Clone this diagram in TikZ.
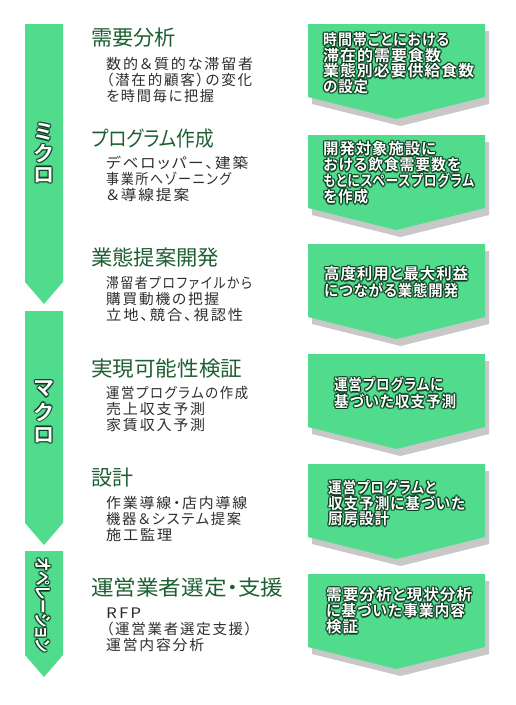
\documentclass[tikz,border=0pt]{standalone}
\usepackage{graphicx}
\usepackage{fontspec}
\newfontfamily\jp[RawFeature=+palt]{Noto Sans CJK JP}
\newfontfamily\jpsp[RawFeature=+palt,LetterSpace=12]{Noto Sans CJK JP}
\newfontfamily\jpbsp[RawFeature=+palt,LetterSpace=6]{Noto Sans CJK JP Bold}
\newfontfamily\jpb[RawFeature=+palt]{Noto Sans CJK JP Bold}
\newfontfamily\jpbv{Noto Sans CJK JP Bold}
\definecolor{grn}{RGB}{80,220,140}
\definecolor{shd}{RGB}{200,200,200}
\definecolor{hd}{RGB}{30,95,50}
\definecolor{bd}{RGB}{45,45,45}
\definecolor{glw}{RGB}{8,45,22}
\tikzset{
  heading/.style={font=\jp\fontsize{21}{21}\selectfont, text=hd, inner sep=0, anchor=base west},
  bodytxt/.style={font=\jpsp\fontsize{14.5}{16}\selectfont, text=bd, inner sep=0, anchor=base west},
  boxtxt/.style={font=\jpbsp\fontsize{15.5}{16}\selectfont, text=white, inner sep=0, anchor=base west},
  vlab/.style={font=\jpbv\fontsize{21}{21}\selectfont, text=white, inner sep=0, anchor=center},
  glowcopy/.style={text=glw, opacity=.62},
  chev/.style={fill=grn, draw=none},
  chevshadow/.style={fill=shd, draw=none},
}
% fit a line to a width, keeping its height
\newcommand\fitw[2]{\resizebox{#1pt}{\height}{#2}}
% plain lines: #1 name, #2 x, #3 first baseline, #4 spacing, #5 style, #6 list text/width
\newcommand\txtlines[6]{%
  \foreach \t/\w [count=\i from 0] in {#6}{%
    \node[#5] (#1-\i) at (#2, #3+\i*#4) {\fitw{\w}{\t}};}}
% glowing lines
\newcommand\glowlines[6]{%
  \foreach \t/\w [count=\i from 0] in {#6}{%
    \foreach \ga in {0,45,...,315}{%
      \node[#5, glowcopy] at ([shift={(\ga:1.4pt)}] #2, #3+\i*#4) {\fitw{\w}{\t}};}%
    \node[#5] (#1-\i) at (#2, #3+\i*#4) {\fitw{\w}{\t}};}}
\newcommand\chevron[1]{% #1 top y
  \fill[chevshadow] (312,#1+7) -- (489,#1+7) -- (489,#1+80) -- (400.5,#1+102) -- (312,#1+80) -- cycle;
  \fill[chev] (308,#1) -- (485,#1) -- (485,#1+73) -- (396.5,#1+95) -- (308,#1+73) -- cycle;}
\begin{document}
\begin{tikzpicture}[x=1pt,y=-1pt]
\useasboundingbox (0,0) rectangle (515,705);
% left phase arrows
\fill[chev] (25,24) -- (63,24) -- (63,282) -- (44,304) -- (25,282) -- cycle;
\fill[chev] (25,311) -- (63,311) -- (63,523) -- (44,545) -- (25,523) -- cycle;
\fill[chev] (25,551) -- (63,551) -- (63,655) -- (44,677) -- (25,655) -- cycle;
% phase labels
\foreach \c [count=\i from 0] in {ミ,ク,ロ}{%
  \foreach \ga in {0,45,...,315}{\node[vlab,glowcopy] at ([shift={(\ga:1.4pt)}] 44,132+\i*21.5) {\c};}
  \node[vlab] (micro-\i) at (44,132+\i*21.5) {\c};}
\foreach \c [count=\i from 0] in {マ,ク,ロ}{%
  \foreach \ga in {0,45,...,315}{\node[vlab,glowcopy] at ([shift={(\ga:1.4pt)}] 44,389+\i*23) {\c};}
  \node[vlab] (macro-\i) at (44,389+\i*23) {\c};}
\foreach \ga in {0,45,...,315}{\node[vlab,glowcopy,font=\jpb\fontsize{18}{18}\selectfont,rotate=-90] at ([shift={(\ga:1.4pt)}] 43,605) {\fitw{94}{オペレーション}};}
\node[vlab,font=\jpb\fontsize{18}{18}\selectfont,rotate=-90] (oper) at (43,605) {\fitw{94}{オペレーション}};
% headings
\node[heading] (h1) at (91,45) {\fitw{85}{需要分析}};
\node[heading] (h2) at (91,146) {\fitw{123}{プログラム作成}};
\node[heading] (h3) at (91,265) {\fitw{128}{業態提案開発}};
\node[heading] (h4) at (91,376) {\fitw{151}{実現可能性検証}};
\node[heading] (h5) at (91,485) {\fitw{42}{設計}};
\node[heading] (h6) at (91,595) {\fitw{192}{運営業者選定・支援}};
% body texts
\txtlines{b1}{106}{69.5}{16}{bodytxt}{数的＆質的な滞留者/147,（潜在的顧客）の変化/146,を時間毎に把握/108}
\txtlines{b2}{106}{168.5}{16}{bodytxt}{デベロッパー、建築/142,事業所へゾーニング/125,＆導線提案/83}
\txtlines{b3}{106}{288.5}{16}{bodytxt}{滞留者プロファイルから/146,購買動機の把握/113,立地、競合、視認性/137}
\txtlines{b4}{106}{398.5}{16}{bodytxt}{運営プログラムの作成/142,売上収支予測/99,家賃収入予測/99}
\txtlines{b5}{106}{508.5}{16}{bodytxt}{作業導線・店内導線/141,機器＆システム提案/135,施工監理/66}
\txtlines{b6}{106}{618.5}{16}{bodytxt}{RFP/35,（運営業者選定支援）/146,運営内容分析/98}
% right chevrons
\chevron{24}
\chevron{135}
\chevron{244}
\chevron{354}
\chevron{464}
\chevron{574}
\glowlines{c1}{323}{45.7}{15.5}{boxtxt}{時間帯ごとにおける/126,滞在的需要食数/118,業態別必要供給食数/151,の設定/45}
\glowlines{c2}{323}{154.7}{16}{boxtxt}{開発対象施設に/113,おける飲食需要数を/138,もとにスペースプログラム/151,を作成/45}
\glowlines{c3}{324}{279.7}{16.5}{boxtxt}{高度利用と最大利益/144,につながる業態開発/134}
\glowlines{c4}{334}{390.7}{16.5}{boxtxt}{運営プログラムに/109,基づいた収支予測/122}
\glowlines{c5}{328}{493.7}{15.5}{boxtxt}{運営プログラムと/108,収支予測に基づいた/137,厨房設計/61}
\glowlines{c6}{326}{600.7}{16}{boxtxt}{需要分析と現状分析/146,に基づいた事業内容/139,検証/32}
\end{tikzpicture}
\end{document}
